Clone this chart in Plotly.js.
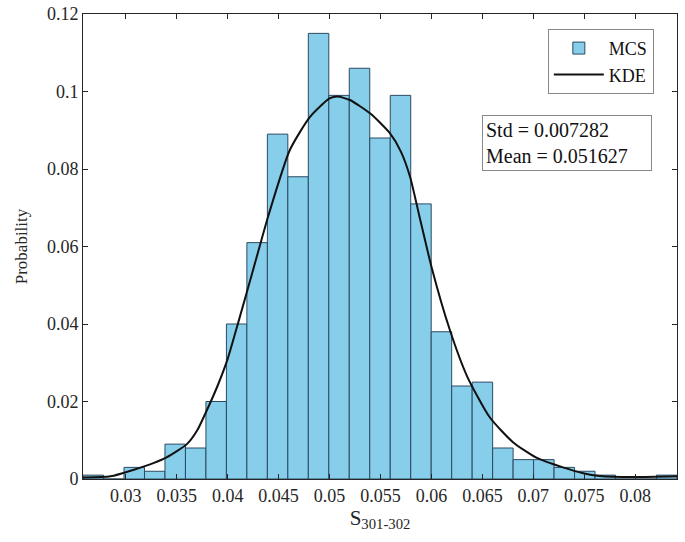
<!DOCTYPE html>
<html>
<head>
<meta charset="utf-8">
<script src="https://cdn.plot.ly/plotly-3.0.1.min.js"></script>
<style>html,body{margin:0;padding:0;background:#fff;}#chart{width:685px;height:542px;}</style>
</head>
<body>
<div id="chart"></div>
<script>
// Histogram (MCS) bins
const binCenters = [0.02681, 0.02882, 0.03083, 0.03284, 0.03485, 0.03686, 0.03887, 0.04088, 0.04289, 0.04490,
                    0.04691, 0.04892, 0.05093, 0.05294, 0.05495, 0.05696, 0.05897, 0.06098, 0.06299, 0.06500,
                    0.06701, 0.06902, 0.07103, 0.07304, 0.07505, 0.07706, 0.07907, 0.08108, 0.08309];
const binWidth = 0.00201;
const mcsProb = [0.001, 0, 0.003, 0.002, 0.009, 0.008, 0.020, 0.040, 0.061, 0.089,
                 0.078, 0.115, 0.099, 0.106, 0.088, 0.099, 0.071, 0.038, 0.024, 0.025,
                 0.008, 0.005, 0.005, 0.003, 0.002, 0.001, 0, 0, 0.001];
// KDE curve
const kdeX = [0.0258, 0.0285, 0.0308, 0.0327, 0.0340, 0.0360, 0.0370, 0.0380, 0.0390, 0.0400, 0.0412, 0.0425, 0.0440,
              0.0461, 0.0481, 0.0500, 0.0508, 0.0520, 0.0540, 0.0559, 0.0570, 0.0579, 0.0588, 0.0600, 0.0618,
              0.0635, 0.0657, 0.0680, 0.0703, 0.0729, 0.0749, 0.0765, 0.0798, 0.0841];
const kdeY = [0.0004, 0.0007, 0.0024, 0.0041, 0.0056, 0.0090, 0.0125, 0.0180, 0.0240, 0.0310, 0.0419, 0.0540, 0.0680,
              0.0849, 0.0935, 0.0982, 0.0987, 0.0978, 0.0943, 0.0893, 0.0845, 0.0780, 0.0680, 0.0548, 0.0385,
              0.0265, 0.0160, 0.0095, 0.0055, 0.0030, 0.0015, 0.0008, 0.0005, 0.0007];
const xTicks = [0.03, 0.035, 0.04, 0.045, 0.05, 0.055, 0.06, 0.065, 0.07, 0.075, 0.08];
const yTicks = [0, 0.02, 0.04, 0.06, 0.08, 0.1, 0.12];
const statText = 'Std = 0.007282<br>Mean = 0.051627';

const font = 'Liberation Serif, Times New Roman, serif';
const axisCol = '#262626';

const traces = [
  {type: 'bar', x: binCenters, y: mcsProb, width: binWidth, name: 'MCS',
   marker: {color: 'rgb(135,206,235)', line: {color: '#2a4a62', width: 1}}},
  {type: 'scatter', mode: 'lines', x: kdeX, y: kdeY, name: 'KDE',
   line: {color: '#111', width: 2, shape: 'spline', smoothing: 0.6}}
];

const layout = {
  width: 685, height: 542,
  margin: {l: 83, r: 8, t: 14, b: 63},
  paper_bgcolor: '#fff', plot_bgcolor: '#fff',
  font: {family: font, size: 18, color: axisCol},
  bargap: 0,
  showlegend: true,
  legend: {x: 0.961, y: 0.968, xanchor: 'right', yanchor: 'top',
           bordercolor: '#888', borderwidth: 1, bgcolor: '#fff',
           font: {family: font, size: 18, color: '#111'}, tracegroupgap: 0, itemwidth: 50},
  xaxis: {range: [0.0258, 0.0841], tickvals: xTicks, ticktext: xTicks.map(String),
          ticks: 'inside', ticklen: 5, tickcolor: axisCol, showline: true, linecolor: axisCol,
          linewidth: 1, mirror: 'ticks', showgrid: false, zeroline: false,
          tickfont: {family: font, size: 18, color: axisCol},
          title: {text: 'S<sub>301-302</sub>', font: {family: font, size: 21, color: axisCol}, standoff: 4}},
  yaxis: {range: [0, 0.12], tickvals: yTicks, ticktext: yTicks.map(String),
          ticks: 'inside', ticklen: 5, tickcolor: axisCol, showline: true, linecolor: axisCol,
          linewidth: 1, mirror: 'ticks', showgrid: false, zeroline: false,
          tickfont: {family: font, size: 18, color: axisCol},
          title: {text: 'Probability', font: {family: font, size: 17, color: axisCol}, standoff: 14}},
  annotations: [{xref: 'paper', yref: 'paper', x: 0.672, y: 0.783, xanchor: 'left', yanchor: 'top',
                 text: statText, showarrow: false, align: 'left',
                 bordercolor: '#888', borderwidth: 1, bgcolor: '#fff', borderpad: 3,
                 width: 162, height: 48, font: {family: font, size: 20, color: '#111'}}]
};

Plotly.newPlot('chart', traces, layout, {displayModeBar: false, staticPlot: true});
</script>
</body>
</html>
